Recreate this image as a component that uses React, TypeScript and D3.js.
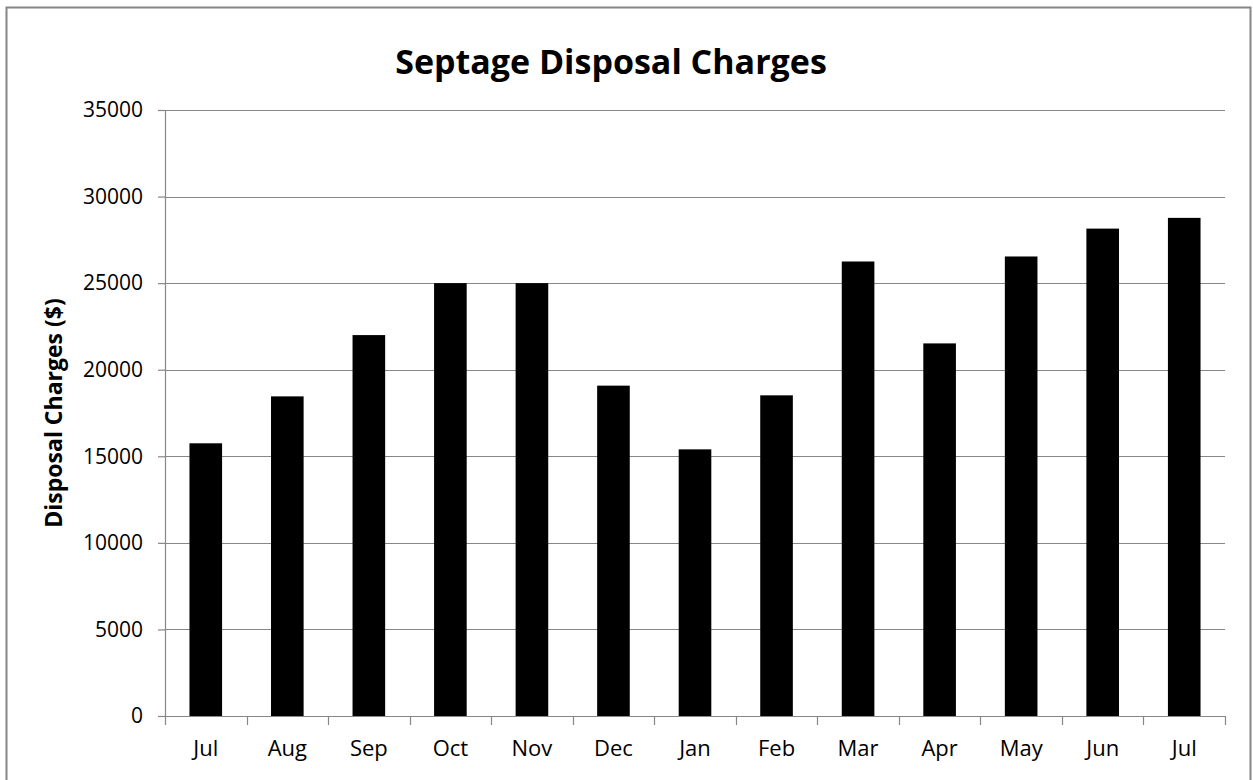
import React, { useRef, useEffect } from "react";
import * as d3 from "d3";

const months = ["Jul", "Aug", "Sep", "Oct", "Nov", "Dec", "Jan", "Feb", "Mar", "Apr", "May", "Jun", "Jul"];
const charges = [15750, 18460, 22000, 25000, 25000, 19080, 15400, 18520, 26250, 21520, 26540, 28150, 28770];
const yTicks = [0, 5000, 10000, 15000, 20000, 25000, 30000, 35000];

function App() {
  const ref = useRef<SVGSVGElement>(null);

  const W = 1253, H = 780;
  const margin = { top: 110, right: 28, bottom: 64, left: 165 };
  const width = W - margin.left - margin.right;
  const height = H - margin.top - margin.bottom;

  useEffect(() => {
    const svg = d3.select(ref.current);
    svg.selectAll("*").remove();

    const font = "'Open Sans', sans-serif";

    // outer chart border
    svg.append("rect")
      .attr("x", 6.5).attr("y", 7.5)
      .attr("width", 1244).attr("height", 800)
      .attr("fill", "white")
      .attr("stroke", "#868686")
      .attr("stroke-width", 2);

    svg.append("text")
      .attr("x", 611).attr("y", 74)
      .attr("text-anchor", "middle")
      .style("font-family", font)
      .style("font-weight", "bold")
      .style("font-size", "34px")
      .text("Septage Disposal Charges");

    const g = svg.append("g")
      .attr("transform", "translate(" + margin.left + "," + margin.top + ")");

    // indices so the two "Jul" stay separate
    const x = d3.scaleBand<number>()
      .domain(months.map((_, i) => i))
      .range([0, width])
      .paddingInner(0.6)
      .paddingOuter(0.3);

    const y = d3.scaleLinear()
      .domain([0, 35000])
      .range([height, 0]);

    // gridlines
    g.append("g")
      .selectAll("line")
      .data(yTicks.filter(d => d > 0))
      .enter()
      .append("line")
        .attr("x1", 0).attr("x2", width)
        .attr("y1", d => Math.round(y(d)) + 0.5)
        .attr("y2", d => Math.round(y(d)) + 0.5)
        .attr("stroke", "#878787")
        .attr("stroke-width", 1.2);

    // y axis
    const yAxis = g.append("g")
      .call(d3.axisLeft(y).tickValues(yTicks).tickSize(7).tickPadding(15).tickFormat(d => String(d)));
    yAxis.select(".domain").attr("stroke", "#878787").attr("stroke-width", 1.2);
    yAxis.selectAll(".tick line").attr("stroke", "#878787").attr("stroke-width", 1.2);
    yAxis.selectAll(".tick text")
      .style("font-family", font)
      .style("font-size", "21px")
      .attr("fill", "#000");

    // bars
    g.append("g")
      .selectAll("rect")
      .data(charges)
      .enter()
      .append("rect")
        .attr("x", (d, i) => x(i)!)
        .attr("y", d => y(d))
        .attr("width", x.bandwidth())
        .attr("height", d => height - y(d))
        .attr("fill", "#000");

    // x axis with ticks between categories
    const xl = d3.scaleLinear().domain([0, months.length]).range([0, width]);
    const xAxis = g.append("g")
      .attr("transform", "translate(0," + height + ")");
    xAxis.append("line")
      .attr("x1", 0).attr("x2", width)
      .attr("y1", 0.5).attr("y2", 0.5)
      .attr("stroke", "#878787").attr("stroke-width", 1.2);
    xAxis.selectAll("line.tk")
      .data(d3.range(months.length + 1))
      .enter()
      .append("line")
        .attr("class", "tk")
        .attr("x1", d => Math.round(xl(d)) + 0.5)
        .attr("x2", d => Math.round(xl(d)) + 0.5)
        .attr("y1", 0).attr("y2", 9)
        .attr("stroke", "#878787").attr("stroke-width", 1.2);
    xAxis.selectAll("text")
      .data(months)
      .enter()
      .append("text")
        .attr("x", (d, i) => x(i)! + x.bandwidth() / 2)
        .attr("y", 40)
        .attr("text-anchor", "middle")
        .style("font-family", font)
        .style("font-size", "22px")
        .text(d => d);

    svg.append("text")
      .attr("transform", "translate(62," + (margin.top + height / 2) + ") rotate(-90)")
      .attr("text-anchor", "middle")
      .style("font-family", font)
      .style("font-weight", "bold")
      .style("font-size", "23px")
      .text("Disposal Charges ($)");
  }, []);

  return (
    <svg ref={ref} width={W} height={H}
      style={{ position: "absolute", left: 0, top: 0, background: "white" }} />
  );
}

export default App;
